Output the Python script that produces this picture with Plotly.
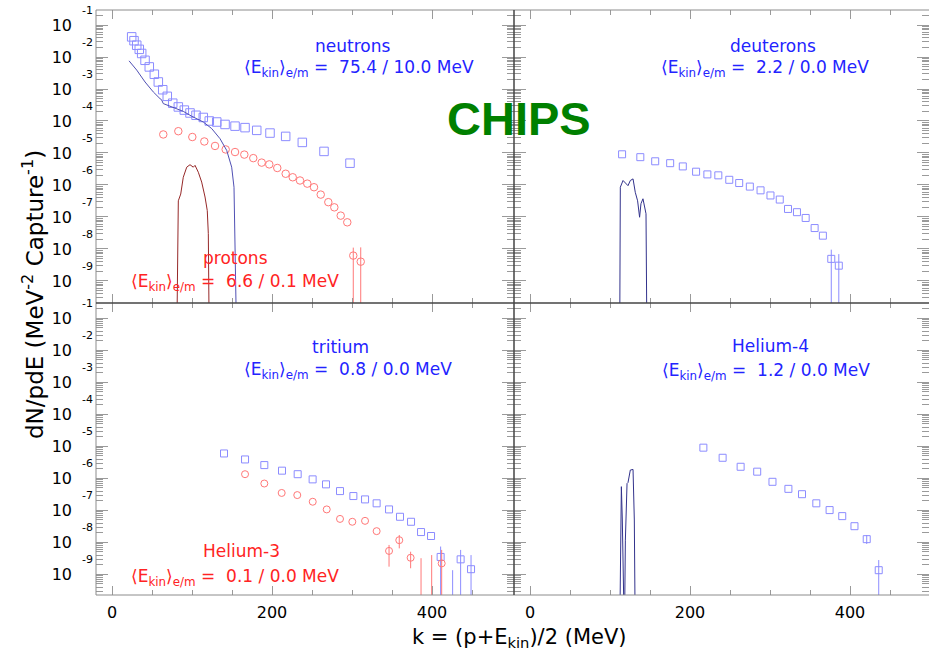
import plotly.graph_objects as go
from plotly.subplots import make_subplots

# ---------------------------------------------------------------
# Spectra of secondaries after capture (CHIPS), dN/pdE vs k
# ---------------------------------------------------------------

EMPTY = 1e-11  # empty histogram bin (below the visible log range)

# neutrons: measured points and simulated spectrum
n_k = [24.6, 27.5, 30.9, 34.1, 37.1, 41.3, 46.6, 52.9, 57.9, 63.4, 69.1, 75.9,
       82.9, 90.4, 97.5, 105.0, 114.1, 121.6, 130.9, 141.3, 153.8, 166.3,
       180.9, 197.5, 217.1, 237.9, 265.0, 297.5]
n_val = [4.27e-2, 3.24e-2, 2.34e-2, 1.74e-2, 1.29e-2, 7.9e-3, 4.9e-3, 2.9e-3,
         1.66e-3, 9.5e-4, 5.9e-4, 3.6e-4, 2.75e-4, 2.19e-4, 1.78e-4, 1.51e-4,
         1.29e-4, 1.0e-4, 9.3e-5, 7.8e-5, 6.9e-5, 6.2e-5, 5.1e-5, 4.2e-5,
         3.3e-5, 2.14e-5, 1.12e-5, 4.8e-6]
n_sim_k = [21.3, 30.9, 41.3, 51.6, 60.0, 62.0, 64.1, 76.6, 89.1, 99.6, 114.1,
           124.6, 135.0, 143.4, 149.6, 152.5, 153.8, 155.9]
n_sim_val = [7.6e-3, 3.9e-3, 1.66e-3, 8.1e-4, 5.0e-4, 4.6e-4, 3.5e-4, 2.6e-4,
             2.0e-4, 1.41e-4, 9.3e-5, 5.8e-5, 2.8e-5, 1.2e-5, 3.6e-6, 8.5e-7,
             4.8e-8, EMPTY]

# protons
p_k = [64.1, 82.9, 100.4, 115.4, 128.8, 142.1, 153.8, 165.4, 176.6, 187.1,
       196.6, 206.6, 217.1, 225.9, 235.0, 244.1, 252.5, 260.9, 270.4, 277.9,
       285.9, 294.1, 301.6, 310.9]
p_val = [3.8e-5, 4.8e-5, 3.16e-5, 2.29e-5, 1.66e-5, 1.29e-5, 1.07e-5, 8.9e-6,
         6.9e-6, 5.0e-6, 4.4e-6, 3.4e-6, 2.24e-6, 1.74e-6, 1.38e-6, 1.10e-6,
         8.5e-7, 5.0e-7, 2.9e-7, 2.0e-7, 1.10e-7, 6.8e-8, 6.2e-9, 4.0e-9]
p_hi = [None] * 22 + [1.1e-8, 1.12e-8]
p_lo = [None] * 22 + [0.0, 0.0]
p_sim_k = [80.9, 82.9, 85.9, 89.1, 93.4, 97.5, 101.6, 103.8, 107.9, 112.1,
           116.3, 119.1, 120.4, 121.6]
p_sim_val = [EMPTY, 3.2e-7, 5.2e-7, 1.74e-6, 3.6e-6, 4.3e-6, 3.6e-6, 4.1e-6,
             2.5e-6, 1.23e-6, 4.2e-7, 1.58e-7, 3.0e-8, EMPTY]

# deuterons
d_k = [115.1, 137.9, 156.5, 175.2, 191.0, 207.6, 221.7, 235.4, 249.1, 261.5,
       274.8, 288.2, 300.6, 312.2, 322.5, 333.7, 344.6, 355.8, 366.1, 376.6,
       386.0]
d_val = [9.1e-6, 7.4e-6, 5.5e-6, 4.8e-6, 3.8e-6, 2.6e-6, 2.14e-6, 2.0e-6,
         1.45e-6, 1.15e-6, 8.9e-7, 6.8e-7, 4.7e-7, 3.5e-7, 1.78e-7, 1.41e-7,
         9.3e-8, 4.5e-8, 2.6e-8, 4.9e-9, 3.0e-9]
d_hi = [None] * 19 + [9.5e-9, 6.9e-9]
d_lo = [None] * 19 + [0.0, 0.0]
d_sim_k = [112.1, 112.9, 116.3, 119.2, 122.5, 125.4, 128.8, 131.6, 134.5,
           137.0, 138.7, 141.2, 143.2, 145.0, 146.2]
d_sim_val = [EMPTY, 8.5e-7, 1.38e-6, 1.15e-6, 9.5e-7, 1.38e-6, 1.55e-6, 5.9e-7,
             3.2e-7, 9.8e-8, 2.6e-7, 3.7e-7, 2.0e-7, 1.26e-7, EMPTY]

# tritium
t_k = [140.0, 166.3, 190.4, 212.5, 232.1, 250.8, 267.5, 285.0, 301.7, 316.3,
       330.8, 346.3, 360.0, 373.8, 386.3, 398.8, 410.8, 425.8, 435.8, 448.8]
t_val = [6.0e-6, 3.9e-6, 2.6e-6, 1.74e-6, 1.35e-6, 9.3e-7, 6.5e-7, 4.0e-7,
         2.8e-7, 2.2e-7, 1.66e-7, 1.07e-7, 6.3e-8, 4.4e-8, 2.1e-8, 1.58e-8,
         3.5e-9, 1.0e-10, 2.95e-9, 1.45e-9]
t_hi = [None] * 16 + [7.4e-9, 1.35e-9, 5.8e-9, 4.0e-9]
t_lo = [None] * 16 + [0.0, 0.0, 0.0, 0.0]

# helium-3
h3_k = [166.3, 190.4, 212.1, 231.6, 250.9, 268.4, 285.0, 300.4, 316.3, 330.8,
        346.3, 359.1, 373.3, 386.3, 399.6, 412.1]
h3_val = [1.35e-6, 6.9e-7, 3.5e-7, 3.0e-7, 1.86e-7, 1.07e-7, 5.4e-8, 4.4e-8,
          4.7e-8, 2.24e-8, 5.4e-9, 1.17e-8, 3.3e-9, 1.0e-10, 1.0e-10, 2.2e-9]
h3_hi = [None] * 10 + [8.3e-9, 1.7e-8, 5.1e-9, 3.2e-9, 4.0e-9, 5.8e-9]
h3_lo = [None] * 10 + [1.74e-9, 6.5e-9, 1.55e-9, 0.0, 0.0, 0.0]

# helium-4
h4_k = [216.7, 240.8, 263.3, 284.0, 303.1, 323.0, 340.0, 357.9, 374.5, 390.3,
        405.6, 420.9, 435.9]
h4_val = [9.1e-6, 4.4e-6, 2.3e-6, 1.62e-6, 7.8e-7, 4.7e-7, 3.2e-7, 1.66e-7,
          1.02e-7, 6.6e-8, 3.2e-8, 1.26e-8, 1.35e-9]
h4_hi = [None] * 11 + [1.7e-8, 2.8e-9]
h4_lo = [None] * 11 + [8.9e-9, 0.0]
h4_sim_k = [112.1, 113.0, 114.2, 115.4, 116.3, 118.0, 119.2, 121.3, 122.5,
            125.4, 128.8, 130.4, 131.6]
h4_sim_val = [EMPTY, 1.55e-9, 5.5e-7, 5.0e-8, EMPTY, EMPTY, 1.17e-8, 6.9e-7,
              7.4e-7, 1.82e-6, 1.9e-6, 5.0e-8, EMPTY]

# mean kinetic energies (e / m) per species, MeV
e_mean = {"neutrons": (75.4, 10.0), "protons": (6.6, 0.1),
          "deuterons": (2.2, 0.0), "tritium": (0.8, 0.0),
          "Helium-3": (0.1, 0.0), "Helium-4": (1.2, 0.0)}

# axis ticks
x_major = [0, 200, 400]
x_minor = [50, 100, 150, 250, 300, 350, 450]
y_exps = [-1, -2, -3, -4, -5, -6, -7, -8, -9]

# ---------------------------------------------------------------
W, H = 929, 663
ML, MR, MT, MB = 96, 0, 10, 68
PW, PH = W - ML - MR, H - MT - MB
X_SPLIT = 514          # pixel column of the vertical panel border
Y_SPLIT = 303          # pixel row of the horizontal panel border


def paper_x(px):
    return (px - ML) / PW


def paper_y(py):
    return (H - MB - py) / PH


xs = paper_x(X_SPLIT)
ys = paper_y(Y_SPLIT)

FONT = "DejaVu Sans"
BLUE_PT = "rgb(140,140,255)"
RED_PT = "rgb(255,120,120)"
BLUE_LN = "rgb(80,80,180)"
NAVY_LN = "rgb(50,50,140)"
RED_LN = "rgb(150,40,40)"
BLUE_TX = "rgb(35,35,255)"
RED_TX = "rgb(255,35,35)"
TICK_C = "#9a9a9a"

fig = make_subplots(rows=2, cols=2, horizontal_spacing=0, vertical_spacing=0)


def err(vals, hi, lo):
    plus = [h - v if h is not None else 0 for v, h in zip(vals, hi)]
    minus = [v - l if l is not None else 0 for v, l in zip(vals, lo)]
    return plus, minus


def points(k, v, symbol, color, size, row, col, hi=None, lo=None):
    kw = {}
    if hi is not None:
        plus, minus = err(v, hi, lo)
        kw["error_y"] = dict(type="data", symmetric=False, array=plus,
                             arrayminus=minus, color=color, thickness=1,
                             width=0)
    fig.add_trace(go.Scatter(x=k, y=v, mode="markers",
                             marker=dict(symbol=symbol, size=size,
                                         color=color,
                                         line=dict(width=1, color=color)),
                             showlegend=False, **kw), row=row, col=col)


def curve(k, v, color, row, col):
    fig.add_trace(go.Scatter(x=k, y=v, mode="lines",
                             line=dict(color=color, width=1),
                             showlegend=False), row=row, col=col)


points(n_k, n_val, "square-open", BLUE_PT, 8.5, 1, 1)
points(p_k, p_val, "circle-open", RED_PT, 7.5, 1, 1, p_hi, p_lo)
curve(n_sim_k, n_sim_val, BLUE_LN, 1, 1)
curve(p_sim_k, p_sim_val, RED_LN, 1, 1)

points(d_k, d_val, "square-open", BLUE_PT, 7, 1, 2, d_hi, d_lo)
curve(d_sim_k, d_sim_val, NAVY_LN, 1, 2)

points(t_k, t_val, "square-open", BLUE_PT, 7, 2, 1, t_hi, t_lo)
points(h3_k, h3_val, "circle-open", RED_PT, 7, 2, 1, h3_hi, h3_lo)

points(h4_k, h4_val, "square-open", BLUE_PT, 7, 2, 2, h4_hi, h4_lo)
curve(h4_sim_k, h4_sim_val, NAVY_LN, 2, 2)

# ---- axes ----
px_per_unit = (X_SPLIT - ML) / 522.5
x_ranges = {1: [-20, 502.5], 2: [-20, -20 + (W - X_SPLIT) / px_per_unit]}
y_ranges = {1: [-9.69, -0.53], 2: [-9.645, -0.52]}
y_major = [10.0 ** e for e in y_exps]
y_minor = [m * 10.0 ** e for e in range(-11, 0) for m in range(2, 10)]

for row in (1, 2):
    for col in (1, 2):
        fig.update_xaxes(
            row=row, col=col, range=x_ranges[col], showgrid=False,
            zeroline=False, showline=False, mirror="allticks",
            ticks="inside", ticklen=9, tickwidth=1, tickcolor=TICK_C,
            tickmode="array", tickvals=x_major,
            ticktext=[str(v) for v in x_major],
            showticklabels=(row == 2), ticklabelstandoff=6,
            tickfont=dict(family=FONT, size=16, color="black"),
            minor=dict(ticks="inside", ticklen=5, tickcolor=TICK_C,
                       tickmode="array", tickvals=x_minor, showgrid=False),
        )
        fig.update_yaxes(
            row=row, col=col, type="log", range=y_ranges[row],
            showgrid=False, zeroline=False, showline=False,
            mirror="allticks", ticks="inside", ticklen=12, tickwidth=1,
            tickcolor=TICK_C, tickmode="array", tickvals=y_major,
            ticktext=["10"] * len(y_major), showticklabels=(col == 1),
            ticklabelstandoff=23,
            tickfont=dict(family=FONT, size=16, color="black"),
            minor=dict(ticks="inside", ticklen=7, tickcolor=TICK_C,
                       tickmode="array", tickvals=y_minor, showgrid=False),
        )

fig.update_xaxes(domain=[0, xs], col=1)
fig.update_xaxes(domain=[xs, 1], col=2)
fig.update_yaxes(domain=[ys, 1], row=1)
fig.update_yaxes(domain=[0, ys], row=2)

annotations = []

# exponents of the decade labels
for yref in ("y", "y3"):
    for e in y_exps:
        annotations.append(dict(
            xref="paper", yref=yref, x=paper_x(80), y=e, yshift=14.5,
            xanchor="left", yanchor="middle", showarrow=False, text=str(e),
            font=dict(family=FONT, size=11, color="black")))


def label(px, py, text, color):
    annotations.append(dict(
        xref="paper", yref="paper", x=paper_x(px), y=paper_y(py),
        xanchor="center", yanchor="middle", showarrow=False, text=text,
        font=dict(family=FONT, size=17, color=color)))


def ekin(name):
    a, b = e_mean[name]
    return ("\u27e8E<sub>kin</sub>\u27e9<sub>e/m</sub> = \u00a0%.1f / %.1f MeV"
            % (a, b))


label(352, 46, "neutrons", BLUE_TX)
label(359, 69, ekin("neutrons"), BLUE_TX)
label(235, 258, "protons", RED_TX)
label(235, 282, ekin("protons"), RED_TX)
label(773, 46, "deuterons", BLUE_TX)
label(765, 69, ekin("deuterons"), BLUE_TX)
label(340, 347, "tritium", BLUE_TX)
label(348, 370, ekin("tritium"), BLUE_TX)
label(241, 551, "Helium-3", RED_TX)
label(235, 577, ekin("Helium-3"), RED_TX)
label(770, 346, "Helium-4", BLUE_TX)
label(766, 371, ekin("Helium-4"), BLUE_TX)

annotations.append(dict(
    xref="paper", yref="paper", x=paper_x(519), y=paper_y(118),
    xanchor="center", yanchor="middle", showarrow=False, text="CHIPS",
    font=dict(family="Liberation Sans", size=47, color="rgb(0,128,0)",
              weight="bold")))

annotations.append(dict(
    xref="paper", yref="paper", x=paper_x(519), y=paper_y(638),
    xanchor="center", yanchor="middle", showarrow=False,
    text="k = (p+E<sub>kin</sub>)/2 (MeV)",
    font=dict(family=FONT, size=21, color="black")))

annotations.append(dict(
    xref="paper", yref="paper", x=paper_x(33), y=paper_y(295),
    xanchor="center", yanchor="middle", showarrow=False, textangle=-90,
    text="dN/pdE (MeV<sup>-2</sup> Capture<sup>-1</sup>)",
    font=dict(family=FONT, size=23, color="black")))

# panel frame: light outer border, darker inner cross
OUTER = dict(color="#8c8c8c", width=1)
INNER = dict(color="#444444", width=1.5)
shapes = [
    dict(type="line", xref="paper", yref="paper", x0=0, x1=0, y0=0, y1=1,
         line=OUTER),
    dict(type="line", xref="paper", yref="paper", x0=0, x1=1, y0=1, y1=1,
         line=OUTER),
    dict(type="line", xref="paper", yref="paper", x0=0, x1=1, y0=0, y1=0,
         line=OUTER),
    dict(type="line", xref="paper", yref="paper", x0=xs, x1=xs, y0=0, y1=1,
         line=INNER),
    dict(type="line", xref="paper", yref="paper", x0=0, x1=1, y0=ys, y1=ys,
         line=INNER),
]

fig.update_layout(
    width=W, height=H, margin=dict(l=ML, r=MR, t=MT, b=MB),
    paper_bgcolor="white", plot_bgcolor="white",
    annotations=annotations, shapes=shapes, showlegend=False,
    font=dict(family=FONT),
)

fig.write_html("out.html")
